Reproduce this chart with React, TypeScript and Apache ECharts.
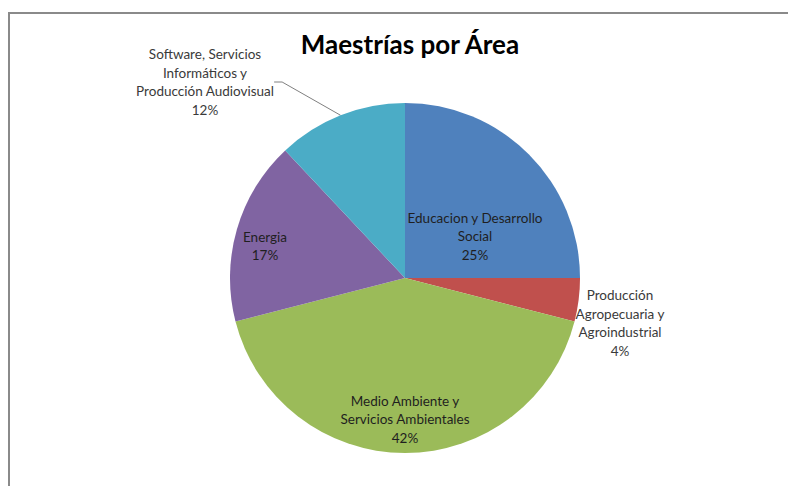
import React, { useEffect, useRef } from "react";
import * as echarts from "echarts";

const categories = [
  "Educacion y Desarrollo\nSocial",
  "Producción\nAgropecuaria y\nAgroindustrial",
  "Medio Ambiente y\nServicios Ambientales",
  "Energia",
  "Software, Servicios\nInformáticos y\nProducción Audiovisual",
];
const values = [25, 4, 42, 17, 12];
const colors = ["#4F81BD", "#C0504D", "#9BBB59", "#8064A2", "#4BACC6"];
const labelPos: [number, number][] = [
  [475, 236],
  [620, 323],
  [405, 419],
  [265, 246],
  [205, 82],
];
const outsideIdx = [1, 4];

export default function App() {
  const ref = useRef<HTMLDivElement>(null);
  useEffect(() => {
    if (!ref.current) return;
    const chart = echarts.init(ref.current, undefined, { renderer: "svg" });
    const font = "Lato, 'Open Sans', sans-serif";
    chart.setOption({
      animation: false,
      backgroundColor: "#ffffff",
      title: {
        text: "Maestrías por Área",
        left: 405,
        textAlign: "center",
        top: 26,
        textStyle: { fontFamily: font, fontWeight: "bold", fontSize: 26, color: "#000" },
      },
      graphic: [
        {
          type: "polyline",
          shape: { points: [[9, 486], [9, 13], [788, 13]] },
          style: { stroke: "#8a8a8a", lineWidth: 2, fill: "none" },
          silent: true,
        },
      ],
      series: [
        {
          type: "pie",
          center: [405, 278],
          radius: 175,
          startAngle: 90,
          clockwise: true,
          itemStyle: { borderWidth: 0 },
          emphasis: { disabled: true },
          label: {
            position: "inside",
            formatter: "{b}\n{c}%",
            fontFamily: font,
            fontSize: 13.5,
            lineHeight: 18.5,
            color: "#1f1f1f",
            align: "center",
          },
          labelLine: { show: false },
          labelLayout: (p: any) => {
            const pos = labelPos[p.dataIndex];
            return { x: pos[0], y: pos[1], align: "center", verticalAlign: "middle" };
          },
          data: categories.map((name, i) => {
            const outside = outsideIdx.includes(i);
            return {
              name,
              value: values[i],
              itemStyle: { color: colors[i] },
              label: { position: outside ? "outside" : "inside", color: outside ? "#3a3a3a" : "#1f1f1f" },
              labelLine: {
                show: i === 4,
                length: 30,
                length2: 8,
                lineStyle: { color: "#808080", width: 1 },
              },
            };
          }),
        },
      ],
    });
    return () => chart.dispose();
  }, []);
  return (
    <div
      ref={ref}
      style={{ position: "fixed", left: 0, top: 0, width: 788, height: 486 }}
    />
  );
}
